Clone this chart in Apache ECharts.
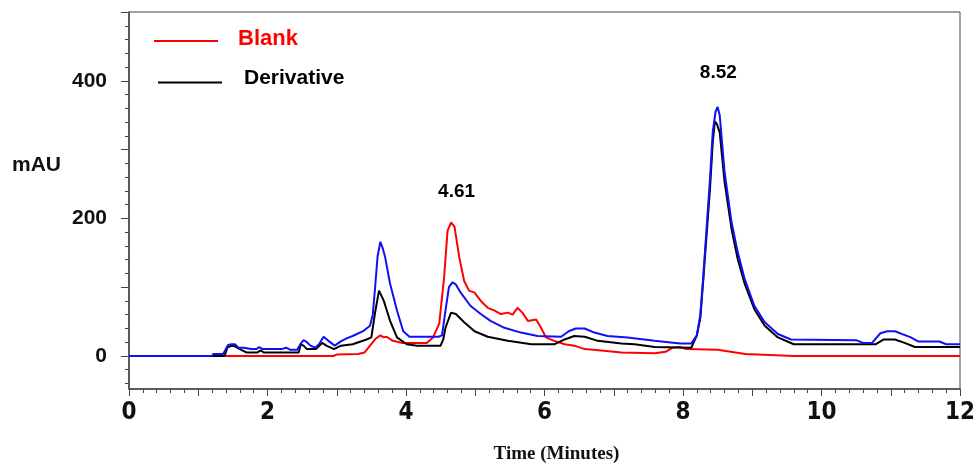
<!DOCTYPE html>
<html>
<head>
<meta charset="utf-8">
<script src="https://cdn.jsdelivr.net/npm/echarts@6/dist/echarts.min.js"></script>
<style>
html,body{margin:0;padding:0;background:#fff;}
#chart{width:973px;height:463px;}
</style>
</head>
<body>
<div id="chart"></div>
<script>
// Data: [time (min), absorbance (mAU)]
const sampleData = [[0,0],[1.2,0],[1.22,3],[1.36,3],[1.43,16],[1.48,17],[1.53,17],[1.58,12],[1.66,12],[1.76,10],[1.84,10],[1.88,13],[1.93,10],[2.2,10],[2.27,12],[2.33,9],[2.43,9],[2.48,18],[2.52,23],[2.57,20],[2.62,15],[2.69,12],[2.75,18],[2.81,28],[2.88,22],[2.97,15],[3.07,22],[3.15,26],[3.23,29],[3.38,36],[3.48,44],[3.52,60],[3.55,95],[3.59,145],[3.63,166],[3.66,158],[3.70,143],[3.77,105],[3.87,66],[3.96,36],[4.05,28],[4.47,28],[4.52,30],[4.57,66],[4.62,100],[4.67,107],[4.72,104],[4.79,92],[4.93,73],[5.08,61],[5.22,51],[5.42,41],[5.66,34],[5.90,29],[6.24,28],[6.35,36],[6.45,40],[6.58,40],[6.72,34],[6.91,29],[7.2,27],[7.59,22],[7.96,18],[8.12,18],[8.2,30],[8.25,60],[8.29,112],[8.34,185],[8.39,258],[8.43,326],[8.47,355],[8.50,362],[8.53,350],[8.60,268],[8.70,195],[8.79,151],[8.89,112],[9.03,73],[9.18,49],[9.37,32],[9.56,24],[10.5,23],[10.6,19],[10.73,19],[10.85,33],[10.95,36],[11.06,36],[11.29,27],[11.4,21],[11.7,21],[11.8,17],[12,17]];
const derivativeData = [[0,0],[1.38,0],[1.42,12],[1.48,15],[1.53,14],[1.60,10],[1.70,5],[1.85,5],[1.9,8],[1.95,5],[2.45,5],[2.48,17],[2.52,15],[2.57,10],[2.7,10],[2.79,19],[2.85,15],[2.96,10],[3.06,15],[3.23,17],[3.43,24],[3.50,27],[3.55,61],[3.61,95],[3.68,80],[3.77,51],[3.87,27],[4.01,17],[4.16,15],[4.50,15],[4.54,25],[4.57,41],[4.65,63],[4.72,61],[4.84,49],[4.99,36],[5.18,28],[5.47,22],[5.81,17],[6.14,17],[6.29,24],[6.43,29],[6.58,28],[6.77,22],[7.11,18],[7.30,17],[7.59,13],[8.12,12],[8.2,30],[8.25,55],[8.29,107],[8.34,175],[8.39,243],[8.43,311],[8.46,341],[8.49,337],[8.53,325],[8.60,253],[8.70,185],[8.79,141],[8.89,105],[9.03,68],[9.18,44],[9.37,27],[9.6,17],[10.65,17],[10.78,17],[10.9,24],[11.06,24],[11.2,19],[11.35,13],[12,13]];
const blankData = [[0,0],[2.95,0],[3.0,2],[3.31,3],[3.40,5],[3.48,15],[3.56,25],[3.63,30],[3.68,27],[3.72,28],[3.81,22],[3.95,19],[4.1,19],[4.3,19],[4.39,27],[4.48,47],[4.55,114],[4.60,182],[4.65,194],[4.70,188],[4.77,143],[4.84,109],[4.91,95],[4.99,92],[5.08,80],[5.18,70],[5.28,66],[5.37,61],[5.47,63],[5.54,60],[5.61,70],[5.68,63],[5.76,51],[5.88,53],[5.95,41],[6.02,27],[6.14,22],[6.29,17],[6.43,15],[6.58,10],[6.82,8],[7.11,5],[7.59,4],[7.75,6],[7.85,12],[7.95,13],[8.05,10],[8.5,9],[8.9,3],[9.6,0],[12,0]];
const peakLabels = [[4.73, 238, '4.61'], [8.51, 411, '8.52']];
const yLabelValues = [0, 200, 400];
const yMajorTicks = [0, 100, 200, 300, 400, 500];
const yMinorTicks = [-40,-20,0,20,40,60,80,100,120,140,160,180,200,220,240,260,280,300,320,340,360,380,400,420,440,460,480,500];

const chart = echarts.init(document.getElementById('chart'), null, {renderer:'canvas'});
const boldSans = 'Liberation Sans, Arial, sans-serif';
const blankIcon = 'path://M0,0 L0.01,0 L0.01,0.01 Z M0,4 L64,4 L64,6 L0,6 Z';
const derivIcon = 'path://M0,0 L0.01,0 L0.01,0.01 Z M0,8 L64,8 L64,10 L0,10 Z';
const option = {
  animation: false,
  backgroundColor: '#fff',
  grid: {left: 129, right: 13, top: 12, bottom: 74, show: true, borderColor: '#444', borderWidth: 1, outerBoundsMode: 'none', containLabel: false},
  legend: [
    {data: [{name: 'Blank', icon: blankIcon, textStyle: {color: '#ff0000'}}], left: 154, top: 28, padding: 0,
     itemWidth: 64, itemHeight: 6, textStyle: {fontFamily: boldSans, fontWeight: 'bold', fontSize: 22, padding: [0,0,0,15]}},
    {data: [{name: 'Derivative', icon: derivIcon, textStyle: {color: '#000'}}], left: 158, top: 68, padding: 0,
     itemWidth: 64, itemHeight: 10, textStyle: {fontFamily: boldSans, fontWeight: 'bold', fontSize: 21, padding: [0,0,0,17]}}
  ],
  graphic: [
    {type: 'text', left: 12, top: 155, style: {text: 'mAU', fontFamily: boldSans, fontWeight: 'bold', fontSize: 21, fill: '#111'}}
  ],
  xAxis: {
    type: 'value', min: 0, max: 12, interval: 1,
    name: 'Time (Minutes)', nameLocation: 'middle', nameGap: 56,
    nameTextStyle: {fontFamily: 'Liberation Serif, Times New Roman, serif', fontWeight: 'bold', fontSize: 19, color: '#111', padding: [0,0,0,24]},
    axisLine: {show: true, onZero: false, lineStyle: {color: '#444', width: 1.5}},
    axisTick: {show: true, length: 7, lineStyle: {color: '#444'}},
    minorTick: {show: true, splitNumber: 5, length: 4, lineStyle: {color: '#444'}},
    splitLine: {show: false},
    axisLabel: {margin: 12, fontFamily: 'Liberation Sans Narrow, DejaVu Sans Condensed, sans-serif', fontWeight: 'bold', fontSize: 24, color: '#111',
      formatter: v => (v % 2 === 0 ? String(v) : '')}
  },
  yAxis: [
    {type: 'value', min: -48, max: 500, position: 'left',
     axisLine: {show: true, onZero: false, lineStyle: {color: '#444', width: 1.5}},
     axisTick: {show: true, length: 8, customValues: yMajorTicks, lineStyle: {color: '#444'}},
     splitLine: {show: false},
     axisLabel: {customValues: yLabelValues, margin: 22, fontFamily: boldSans, fontWeight: 'bold', fontSize: 21, color: '#111'}},
    {type: 'value', min: -48, max: 500, position: 'left', offset: 0,
     axisLine: {show: false, onZero: false},
     axisTick: {show: true, length: 4, customValues: yMinorTicks, lineStyle: {color: '#444'}},
     splitLine: {show: false},
     axisLabel: {show: false}}
  ],
  series: [
    {name: 'Blank', type: 'line', data: blankData, symbol: 'none', lineStyle: {color: '#ff0000', width: 2}, itemStyle: {color: '#ff0000'}},
    {name: 'Derivative', type: 'line', data: derivativeData, symbol: 'none', lineStyle: {color: '#000', width: 2}, itemStyle: {color: '#000'}},
    {name: 'Sample', type: 'line', data: sampleData, symbol: 'none', lineStyle: {color: '#1010f5', width: 2}, itemStyle: {color: '#1010f5'}},
    {name: 'labels', type: 'scatter', data: peakLabels, symbolSize: 0, silent: true, itemStyle: {opacity: 1},
     label: {show: true, position: 'inside', formatter: p => p.data[2], fontFamily: boldSans, fontWeight: 'bold', fontSize: 19, color: '#000'}}
  ]
};
chart.setOption(option);
</script>
</body>
</html>
